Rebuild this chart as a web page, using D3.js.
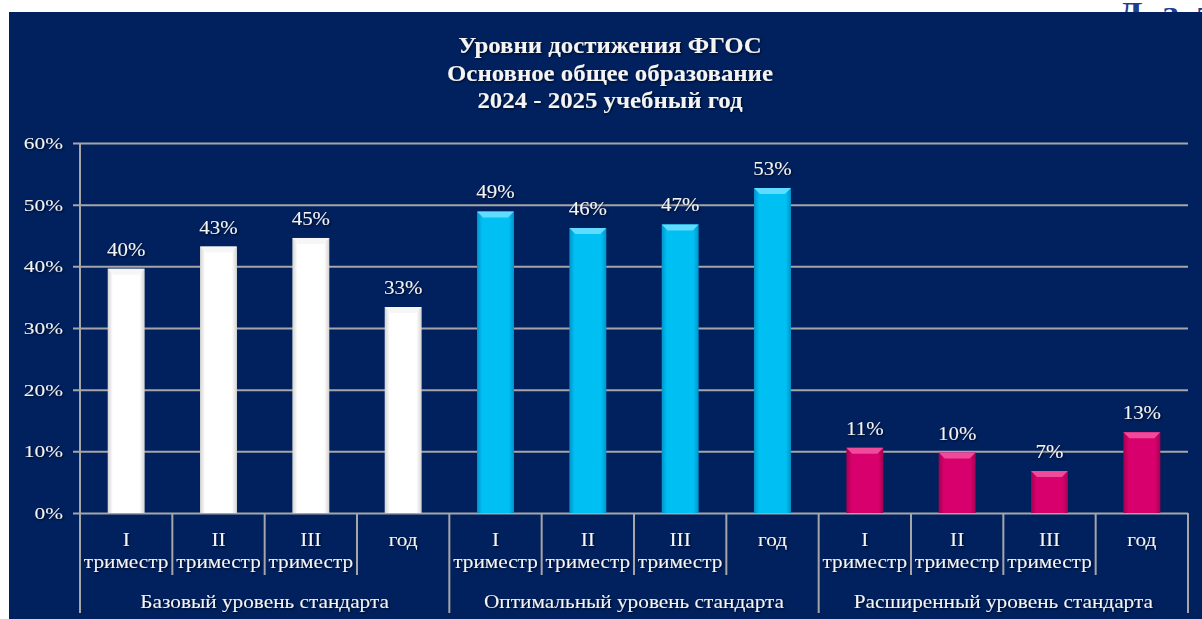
<!DOCTYPE html>
<html>
<head>
<meta charset="utf-8">
<script src="https://cdn.jsdelivr.net/npm/d3@7"></script>
<style>
  body { margin: 0; background: #fff; }
  svg { display: block; }
</style>
</head>
<body>
<div id="chart"></div>
<script>
// data
const groups = ["Базовый уровень стандарта", "Оптимальный уровень стандарта", "Расширенный уровень стандарта"];
const periods = [["I", "триместр"], ["II", "триместр"], ["III", "триместр"], ["год"]];
const baseValues = [39.6, 43.2, 44.6, 33.4];
const optimalValues = [48.9, 46.2, 46.8, 52.7];
const extendedValues = [10.6, 9.8, 6.8, 13.1];
const yTicks = [0, 10, 20, 30, 40, 50, 60];
const titleLines = ["Уровни достижения ФГОС", "Основное общее образование", "2024 - 2025 учебный год"];

const width = 1202, height = 619;
const plotLeft = 80, plotRight = 1188, plotTop = 143, plotBottom = 513;
const SX = 1.2; // text in the picture is stretched sideways
const serif = "'Liberation Serif', 'Times New Roman', serif";

const seriesValues = [baseValues, optimalValues, extendedValues];
const palettes = [
  { edge: "#d4d4d4", mid: "#ffffff", cap: "#f6f6f6" },
  { edge: "#0094cc", mid: "#00bff3", cap: "#5fdcff" },
  { edge: "#a3004f", mid: "#d8006c", cap: "#f04a9a" }
];

// flat list of bars
const bars = [];
groups.forEach((g, gi) => {
  periods.forEach((p, pi) => {
    bars.push({ key: gi + "-" + pi, group: gi, period: pi, value: seriesValues[gi][pi] });
  });
});

const svg = d3.select("#chart").append("svg")
  .attr("width", width).attr("height", height);

const defs = svg.append("defs");
palettes.forEach((p, i) => {
  const lg = defs.append("linearGradient").attr("id", "bar" + i)
    .attr("x1", 0).attr("x2", 1).attr("y1", 0).attr("y2", 0);
  lg.append("stop").attr("offset", "0%").attr("stop-color", p.edge);
  lg.append("stop").attr("offset", "14%").attr("stop-color", p.mid);
  lg.append("stop").attr("offset", "86%").attr("stop-color", p.mid);
  lg.append("stop").attr("offset", "100%").attr("stop-color", p.edge);
});
const shadow = defs.append("filter").attr("id", "tshadow");
shadow.append("feDropShadow").attr("dx", 1).attr("dy", 1)
  .attr("stdDeviation", 0.8).attr("flood-color", "#000").attr("flood-opacity", 0.7);

// heading above the chart, mostly hidden by the panel
svg.append("text")
  .attr("transform", "translate(1118,22) scale(1.2,1)")
  .attr("font-family", serif).attr("font-weight", "bold").attr("font-size", 30)
  .attr("letter-spacing", 4)
  .attr("fill", "#1f3d8f").text("Д а т");

// navy panel
svg.append("rect").attr("x", 9).attr("y", 12)
  .attr("width", width - 9).attr("height", height - 12).attr("fill", "#00205e");

function stext(parent, x, y, str, size, opts = {}) {
  return parent.append("text")
    .attr("transform", `translate(${x},${y}) scale(${opts.sx || SX},1)`)
    .attr("text-anchor", opts.anchor || "middle")
    .attr("font-family", serif)
    .attr("font-size", size)
    .attr("font-weight", opts.weight || "normal")
    .attr("fill", "#f4f4f4")
    .attr("filter", "url(#tshadow)")
    .text(str);
}

// title
const titleY = [53, 81, 108];
titleLines.forEach((t, i) => stext(svg, 610, titleY[i], t, 23, { weight: "bold", sx: 1.08 }));

// scales
const x = d3.scaleBand().domain(bars.map(d => d.key)).range([plotLeft, plotRight]).padding(0);
const y = d3.scaleLinear().domain([0, 60]).range([plotBottom, plotTop]);
const barW = x.bandwidth() * 0.4;

// gridlines + y axis
const yAxis = d3.axisLeft(y).tickValues(yTicks).tickSize(-(plotRight - plotLeft)).tickSizeOuter(0)
  .tickFormat(d => d + "%");
const gy = svg.append("g").attr("transform", `translate(${plotLeft},0)`).call(yAxis);
gy.select(".domain").remove();
gy.selectAll(".tick line").attr("stroke", "#a6a6a6").attr("stroke-width", 2).attr("x1", -7);
gy.selectAll(".tick text").remove();
yTicks.forEach(v => stext(svg, 63, y(v) + 6, v + "%", 17.5, { anchor: "end", sx: 1.22 }));
svg.append("line").attr("x1", plotLeft).attr("x2", plotLeft).attr("y1", plotTop).attr("y2", plotBottom)
  .attr("stroke", "#a6a6a6").attr("stroke-width", 2);

// bars
const gb = svg.append("g");
gb.selectAll("rect.bar").data(bars).join("rect")
  .attr("class", "bar")
  .attr("x", d => x(d.key) + (x.bandwidth() - barW) / 2)
  .attr("y", d => y(d.value))
  .attr("width", barW)
  .attr("height", d => y(0) - y(d.value))
  .attr("fill", d => `url(#bar${d.group})`);
gb.selectAll("path.cap").data(bars).join("path")
  .attr("class", "cap")
  .attr("d", d => {
    const x0 = x(d.key) + (x.bandwidth() - barW) / 2, x1 = x0 + barW, t = y(d.value);
    return `M${x0},${t}L${x1},${t}L${x1 - 6},${t + 6}L${x0 + 6},${t + 6}Z`;
  })
  .attr("fill", d => palettes[d.group].cap);

// value labels
bars.forEach(d => stext(svg, x(d.key) + x.bandwidth() / 2, y(d.value) - 13,
  Math.round(d.value) + "%", 19, { sx: 1.1 }));

// category separators
const sep = svg.append("g").attr("stroke", "#a6a6a6").attr("stroke-width", 2);
bars.forEach(d => {
  const bx = x(d.key);
  sep.append("line").attr("x1", bx).attr("x2", bx).attr("y1", plotBottom)
    .attr("y2", d.period === 0 ? 613 : 575);
});
sep.append("line").attr("x1", plotRight).attr("x2", plotRight).attr("y1", plotBottom).attr("y2", 613);

// category labels
bars.forEach(d => {
  const cx = x(d.key) + x.bandwidth() / 2;
  periods[d.period].forEach((t, li) => stext(svg, cx, 546 + li * 22, t, 18.5, { sx: 1.15 }));
});

// group labels
groups.forEach((g, gi) => {
  const x0 = x(gi + "-0"), x1 = x(gi + "-3") + x.bandwidth();
  stext(svg, (x0 + x1) / 2, 608, g, 18.5, { sx: 1.15 });
});
</script>
</body>
</html>
